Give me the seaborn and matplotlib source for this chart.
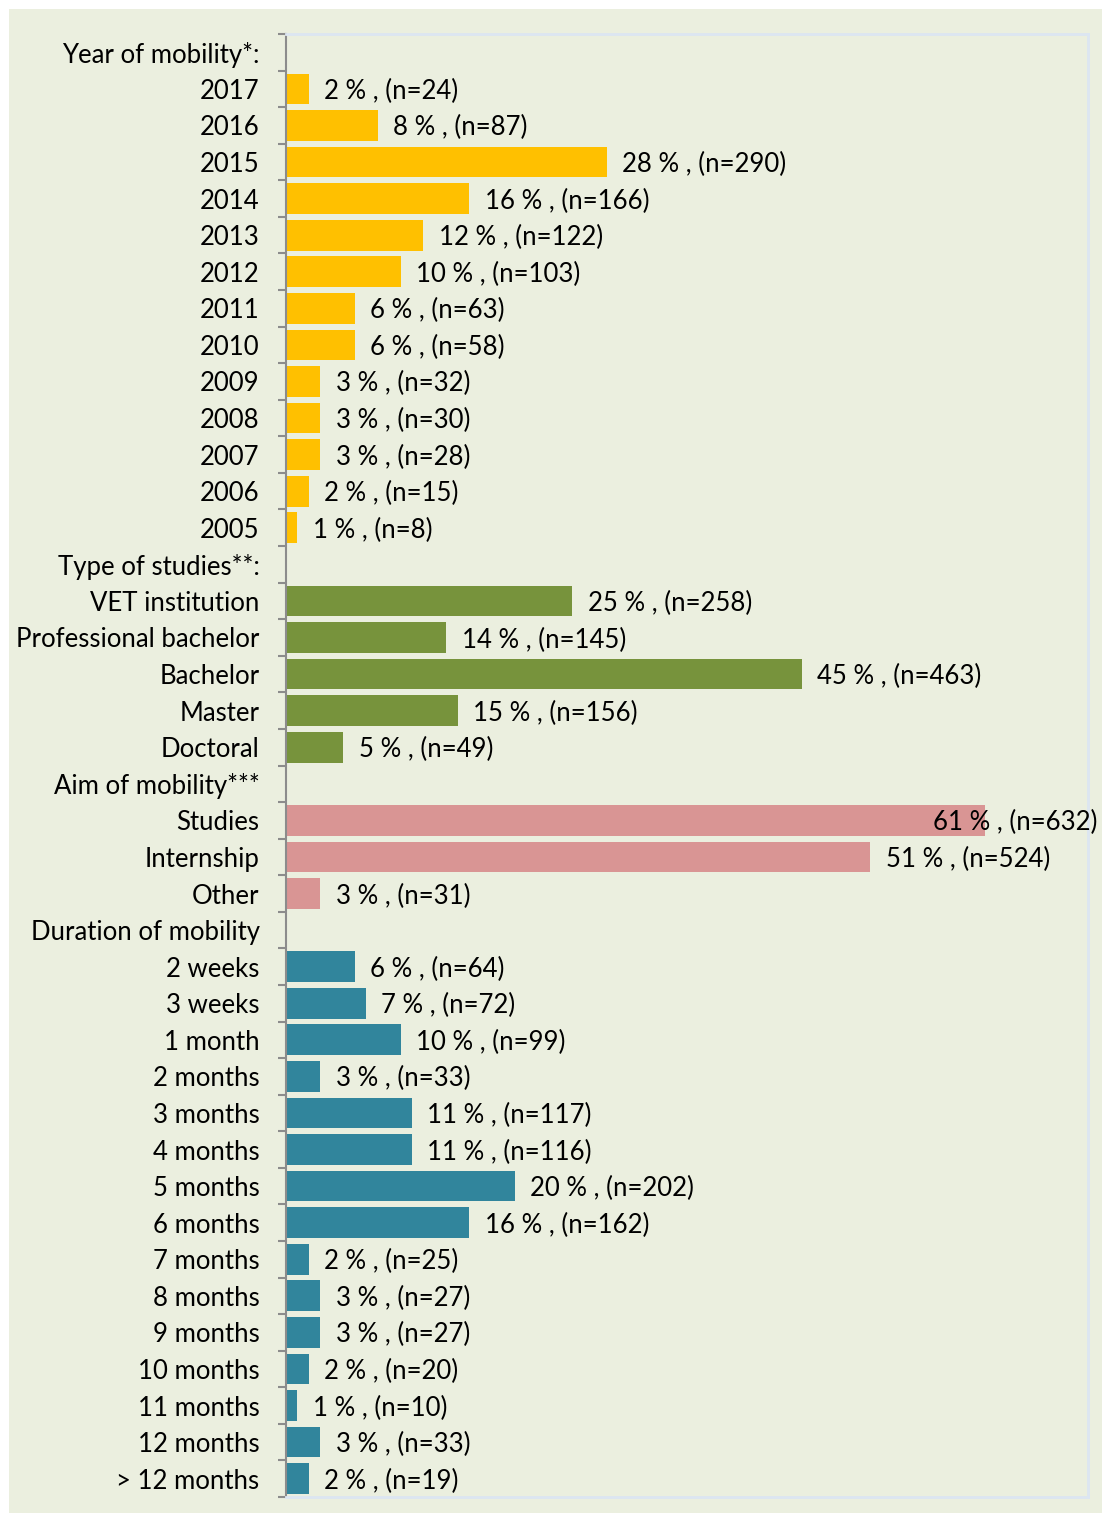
import numpy as np
import pandas as pd
import matplotlib.pyplot as plt
import matplotlib.patches as mpatches
import seaborn as sns

# categories (header rows carry no value)
categories = ['Year of mobility*:', '2017', '2016', '2015', '2014', '2013', '2012', '2011',
              '2010', '2009', '2008', '2007', '2006', '2005',
              'Type of studies**:', 'VET institution', 'Professional bachelor', 'Bachelor',
              'Master', 'Doctoral',
              'Aim of mobility***', 'Studies', 'Internship', 'Other',
              'Duration of mobility', '2 weeks', '3 weeks', '1 month', '2 months', '3 months',
              '4 months', '5 months', '6 months', '7 months', '8 months', '9 months',
              '10 months', '11 months', '12 months', '> 12 months']
groups = ['year'] * 14 + ['type'] * 6 + ['aim'] * 4 + ['duration'] * 16
percents = [np.nan, 2, 8, 28, 16, 12, 10, 6, 6, 3, 3, 3, 2, 1,
            np.nan, 25, 14, 45, 15, 5,
            np.nan, 61, 51, 3,
            np.nan, 6, 7, 10, 3, 11, 11, 20, 16, 2, 3, 3, 2, 1, 3, 2]
counts = [None, 24, 87, 290, 166, 122, 103, 63, 58, 32, 30, 28, 15, 8,
          None, 258, 145, 463, 156, 49,
          None, 632, 524, 31,
          None, 64, 72, 99, 33, 117, 116, 202, 162, 25, 27, 27, 20, 10, 33, 19]
palette = {'year': '#FFC000', 'type': '#77933C', 'aim': '#D99594', 'duration': '#31859C'}

df = pd.DataFrame({'category': categories, 'group': groups, 'pct': percents})

bg = '#EBEFDF'
fs = 18.5
fam = ['Lato', 'DejaVu Sans']
fig = plt.figure(figsize=(11.02, 15.13), dpi=100, facecolor='white')
fig.patches.append(mpatches.Rectangle((9 / 1102, 0), 1, 1 - 9 / 1513,
                                      transform=fig.transFigure, facecolor=bg,
                                      edgecolor='none', zorder=-10))
ax = fig.add_axes([286 / 1102, 16 / 1513, (1088 - 286) / 1102, (1497 - 34) / 1513])
plt.rcParams['font.family'] = fam

sns.barplot(data=df, y='category', x='pct', hue='group', palette=palette,
            order=categories, hue_order=list(palette), dodge=False, width=0.84,
            legend=False, ax=ax, saturation=1)

ax.set_facecolor(bg)
ax.set_xlim(0, 70)
ax.set_ylim(len(categories) - 0.5, -0.5)
ax.set_xlabel('')
ax.set_ylabel('')
ax.set_xticks([])
ax.set_yticks(range(len(categories)))
ax.set_yticklabels(categories, fontsize=fs, family=fam, va='center_baseline')
ax.tick_params(axis='y', which='major', length=0, pad=19)
ax.set_yticks(np.arange(-0.5, len(categories)), minor=True)
ax.tick_params(axis='y', which='minor', length=6, width=1.5, color='#8C8C8C')

for side in ['top', 'right', 'bottom']:
    ax.spines[side].set_color('#DCE6F2')
    ax.spines[side].set_linewidth(2)
ax.spines['left'].set_color('#8C8C8C')
ax.spines['left'].set_linewidth(1.5)

top = np.nanmax(percents)
for i, (p, n) in enumerate(zip(percents, counts)):
    if n is None:
        continue
    off = -37 if p == top else 11
    ax.annotate(f'{p} % , (n={n})', xy=(p, i), xytext=(off, 0), textcoords='offset points',
                ha='left', va='center_baseline', fontsize=fs, family=fam,
                annotation_clip=False)

fig.savefig('out.png', dpi=100, facecolor='white')
